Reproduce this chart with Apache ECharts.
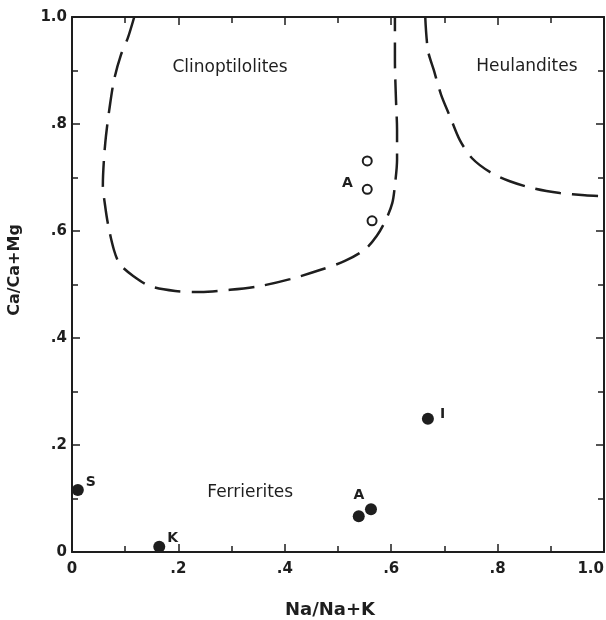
<!DOCTYPE html>
<html>
<head>
<meta charset="utf-8">
<script src="https://cdn.jsdelivr.net/npm/echarts@6/dist/echarts.min.js"></script>
<style>html,body{margin:0;padding:0;background:#fff}#c{width:606px;height:620px}</style>
</head>
<body>
<div id="c"></div>
<script>
// Filled circles (Ferrierites): [Na/Na+K, Ca/Ca+Mg, label]
const ferrieritePoints = [
  [0.011, 0.116, 'S'],
  [0.164, 0.010, 'K'],
  [0.539, 0.067, ''],
  [0.562, 0.080, 'A'],
  [0.669, 0.249, 'I']
];
// Open circles (Clinoptilolites)
const clinoPoints = [
  [0.555, 0.731, ''],
  [0.555, 0.678, 'A'],
  [0.564, 0.619, '']
];
// Dashed boundary of Clinoptilolites field
const clinoBoundary = [
  [0.117,1.0],[0.105,0.961],[0.092,0.929],[0.079,0.882],[0.070,0.826],[0.064,0.779],
  [0.060,0.733],[0.058,0.686],[0.062,0.649],[0.068,0.611],[0.079,0.564],[0.090,0.538],
  [0.115,0.516],[0.147,0.497],[0.194,0.488],[0.241,0.486],[0.297,0.490],[0.353,0.497],
  [0.410,0.510],[0.466,0.527],[0.513,0.544],[0.551,0.566],[0.573,0.591],[0.590,0.621],
  [0.602,0.652],[0.607,0.686],[0.611,0.733],[0.611,0.789],[0.609,0.845],[0.607,0.920],[0.607,1.0]
];
// Dashed boundary of Heulandites field
const heulBoundary = [
  [0.664,1.0],[0.669,0.938],[0.680,0.901],[0.694,0.854],[0.711,0.813],[0.729,0.770],
  [0.752,0.736],[0.786,0.710],[0.823,0.693],[0.870,0.679],[0.917,0.671],[0.964,0.667],[1.0,0.665]
];
// Field names
const fieldNames = [
  [0.297, 0.905, 'Clinoptilolites'],
  [0.855, 0.907, 'Heulandites'],
  [0.335, 0.112, 'Ferrierites']
];
const xTickLabels = {0:'0',0.2:'.2',0.4:'.4',0.6:'.6',0.8:'.8',1:'1.0'};
const xAxisTitle = 'Na/Na+K';
const yAxisTitle = 'Ca/Ca+Mg';

const ink = '#1e1e1e';
const font = '"DejaVu Sans", "Liberation Sans", sans-serif';
function fmt(v){ const k = Math.round(v*10)/10; return xTickLabels[k] !== undefined ? xTickLabels[k] : ''; }

const axisCommon = {
  type:'value', min:0, max:1, interval:0.2,
  axisLine:{show:true, onZero:false, lineStyle:{color:ink, width:2}},
  axisTick:{show:true, inside:true, length:8, lineStyle:{color:ink, width:1.5}},
  minorTick:{show:true, splitNumber:2, length:6, lineStyle:{color:ink, width:1.5}},
  splitLine:{show:false}
};

const chart = echarts.init(document.getElementById('c'));
chart.setOption({
  animation:false,
  backgroundColor:'#fff',
  grid:{left:72, right:2, top:17, bottom:68, outerBoundsMode:'none', containLabel:false},
  xAxis:[
    Object.assign({}, axisCommon, {
      position:'bottom',
      axisLabel:{formatter:fmt, color:ink, fontFamily:font, fontWeight:'bold', fontSize:15, margin:10, alignMaxLabel:'right'}
    }),
    Object.assign({}, axisCommon, {position:'top', axisLabel:{show:false}})
  ],
  yAxis:[
    Object.assign({}, axisCommon, {
      position:'left',
      axisLabel:{formatter:fmt, color:ink, fontFamily:font, fontWeight:'bold', fontSize:15, margin:5}
    }),
    Object.assign({}, axisCommon, {position:'right', axisLabel:{show:false}})
  ],
  graphic:[
    {type:'text', x:330, y:610, style:{text:xAxisTitle, fill:ink, font:'bold 18px ' + font, align:'center', verticalAlign:'middle'}},
    {type:'text', x:15, y:270, rotation:Math.PI/2, style:{text:yAxisTitle, fill:ink, font:'bold 16px ' + font, align:'center', verticalAlign:'middle'}}
  ],
  series:[
    {type:'line', data:clinoBoundary, showSymbol:false, smooth:0.3,
     lineStyle:{color:ink, width:2.5, type:[26,11]}},
    {type:'line', data:heulBoundary, showSymbol:false, smooth:0.3,
     lineStyle:{color:ink, width:2.5, type:[26,11]}},
    {type:'scatter', symbolSize:12, itemStyle:{color:ink, opacity:1},
     data:ferrieritePoints.map(p=>({value:[p[0],p[1]],
       label:{show:!!p[2], formatter:p[2], position:p[2]==='A'?'top':'right',
              offset:p[2]==='A'?[-12,2]:(p[2]==='I'?[3,-4]:[-1,-8]), distance:3,
              color:ink, fontFamily:font, fontWeight:'bold', fontSize:14}}))},
    {type:'scatter', symbolSize:9, symbol:'circle',
     itemStyle:{color:'#fff', borderColor:ink, borderWidth:2, opacity:1},
     data:clinoPoints.map(p=>({value:[p[0],p[1]],
       label:{show:!!p[2], formatter:p[2], position:'left', distance:9, offset:[0,-6],
              color:ink, fontFamily:font, fontWeight:'bold', fontSize:14}}))},
    {type:'scatter', symbolSize:0, silent:true, itemStyle:{opacity:1},
     data:fieldNames.map(p=>({value:[p[0],p[1]],
       label:{show:true, formatter:p[2], position:'inside',
              color:ink, fontFamily:font, fontSize:17}}))}
  ]
});
</script>
</body>
</html>
